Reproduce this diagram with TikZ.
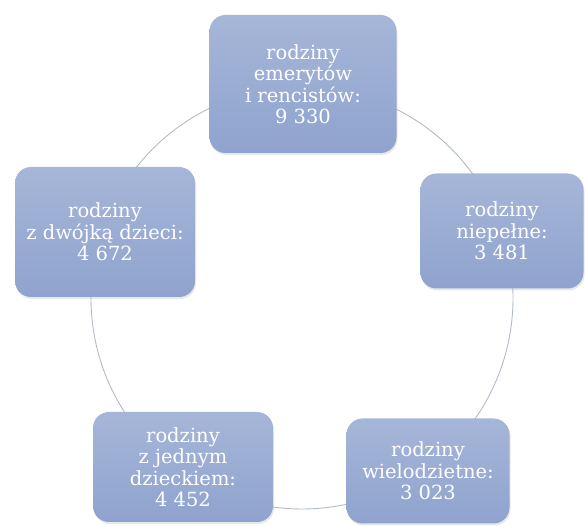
\documentclass[tikz,border=0pt]{standalone}
\usepackage{fontspec}
\setmainfont{DejaVu Serif}
\usepackage{tikz}
\usetikzlibrary{shadows}
\definecolor{boxtop}{HTML}{A6B6D8}
\definecolor{boxbot}{HTML}{8FA3CE}
\definecolor{ring}{HTML}{B4BBC8}

\begin{document}
\begin{tikzpicture}[x=1pt, y=1pt,
        every node/.style={font=\fontsize{19.5}{21.5}\selectfont},
        famil/.style={rectangle, rounded corners=16pt, top color=boxtop,
          bottom color=boxbot, text=white, align=center, inner sep=2pt,
          drop shadow={opacity=0.18, shadow xshift=1pt, shadow yshift=-2pt}},
        ringline/.style={draw=ring, line width=0.9pt}]
      \useasboundingbox (0,0) rectangle (585,526);
      \coordinate (hub) at (302,228);
      % ring behind the boxes
      \draw[ringline] (hub) circle[radius=211];
      \node[famil, minimum width=187, minimum height=138] (emer) at (303,442)
        {rodziny\\emerytów\\i rencistów:\\9 330};
      \node[famil, minimum width=163, minimum height=115] (niep) at (502,295)
        {rodziny\\niepełne:\\3 481};
      \node[famil, minimum width=163, minimum height=105] (wiel) at (428,55)
        {rodziny\\wielodzietne:\\3 023};
      \node[famil, minimum width=180, minimum height=110] (jedn) at (183,59)
        {rodziny\\z jednym\\dzieckiem:\\4 452};
      \node[famil, minimum width=180, minimum height=130] (dwoj) at (105,294)
        {rodziny\\z dwójką dzieci:\\4 672};
    \end{tikzpicture}
\end{document}
